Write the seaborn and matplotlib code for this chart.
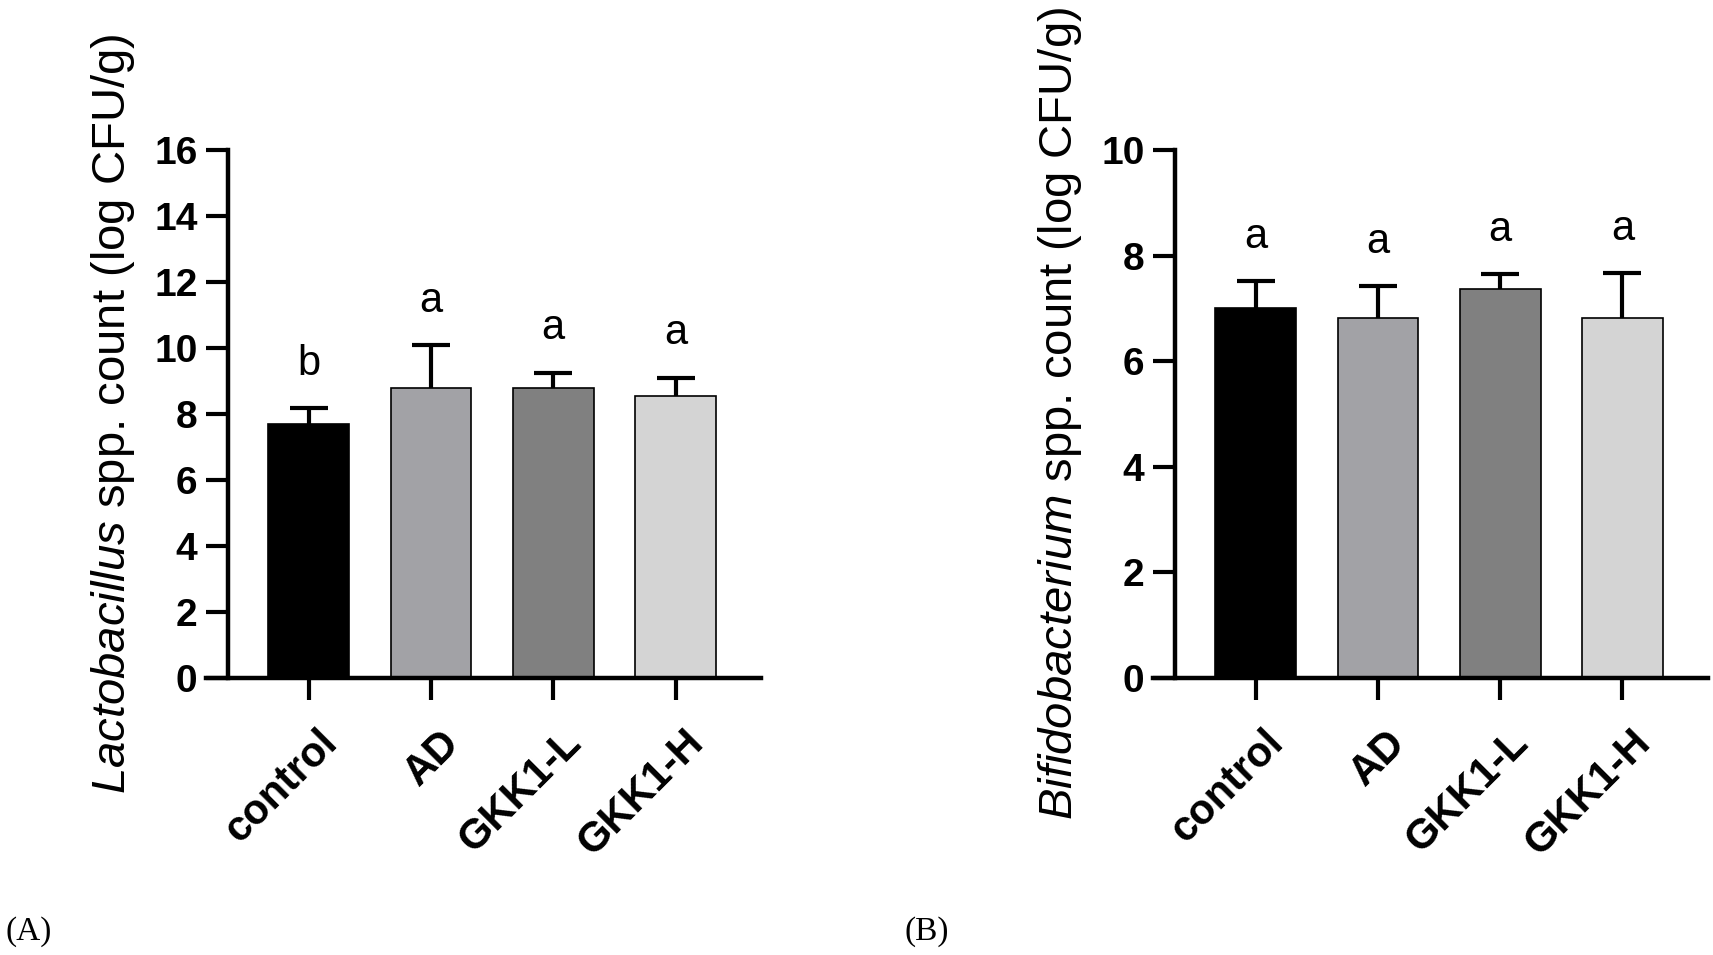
import matplotlib

matplotlib.use("Agg")
import matplotlib.pyplot as plt          # noqa: E402
import matplotlib.transforms as mtrans   # noqa: E402
import numpy as np                       # noqa: E402
import pandas as pd                      # noqa: E402
import seaborn as sns                    # noqa: E402

# ---------------------------------------------------------------------------
# Data
# ---------------------------------------------------------------------------
groups = ["control", "AD", "GKK1-L", "GKK1-H"]
bar_colors = ["#000000", "#A2A2A6", "#808080", "#D4D4D4"]

lacto_mean = [7.69, 8.80, 8.80, 8.53]
lacto_sd = [0.48, 1.29, 0.45, 0.57]
lacto_letters = ["b", "a", "a", "a"]

bifido_mean = [7.01, 6.81, 7.37, 6.81]
bifido_sd = [0.50, 0.61, 0.28, 0.85]
bifido_letters = ["a", "a", "a", "a"]

sns.set_theme(style="ticks")
plt.rcParams["font.family"] = ["Liberation Sans", "DejaVu Sans"]
plt.rcParams["mathtext.fontset"] = "custom"
plt.rcParams["mathtext.rm"] = "Liberation Sans"
plt.rcParams["mathtext.it"] = "Liberation Sans:italic"
for key in ("text.color", "axes.labelcolor", "xtick.color", "ytick.color",
            "axes.edgecolor"):
    plt.rcParams[key] = "black"


def draw_panel(fig, ax, means, sds, letters, genus, ymax, step):
    df = pd.DataFrame({"group": groups, "count": means})
    sns.barplot(data=df, x="group", y="count", hue="group", order=groups,
                hue_order=groups, palette=bar_colors, saturation=1, width=0.66,
                edgecolor="black", linewidth=1.2, legend=False, ax=ax)
    x = np.arange(len(groups))
    # one-sided (upper) SD bars, GraphPad style
    _, caps, _ = ax.errorbar(x, means, yerr=[np.zeros(len(sds)), sds], fmt="none",
                             ecolor="black", elinewidth=3, capsize=14, capthick=3)
    caps[0].remove()
    for i, (m, s, lab) in enumerate(zip(means, sds, letters)):
        ax.annotate(lab, (i, m + s), xytext=(0, 24), textcoords="offset points",
                    ha="center", va="baseline", fontsize=30, color="black")

    ax.set_xlim(-0.84, 3.7)
    ax.set_ylim(0, ymax)
    ax.set_yticks(np.arange(0, ymax + 1, step))
    ax.set_xticks(x)
    ax.set_xticklabels(groups, rotation=45, ha="right", va="top",
                       rotation_mode="anchor")
    ax.spines["left"].set_position(("data", -0.66))
    for side in ("top", "right"):
        ax.spines[side].set_visible(False)
    for side in ("left", "bottom"):
        ax.spines[side].set_linewidth(3.2)
        ax.spines[side].set_color("black")
    ax.tick_params(axis="both", direction="out", length=16, width=3,
                   color="black", labelsize=28, labelcolor="black")
    ax.tick_params(axis="y", pad=6)
    ax.tick_params(axis="x", pad=16, labelsize=30)
    shift = mtrans.ScaledTranslation(0.08, 0, fig.dpi_scale_trans)
    for lbl in ax.get_xticklabels():
        lbl.set_fontweight("bold")
        lbl.set_transform(lbl.get_transform() + shift)
    for lbl in ax.get_yticklabels():
        lbl.set_fontweight("bold")

    ax.set_xlabel("")
    ax.set_ylabel(rf"$\mathit{{{genus}}}$ spp. count (log CFU/g)", fontsize=34,
                  color="black")
    ax.yaxis.set_label_coords(-0.125, 0.5)


fig = plt.figure(figsize=(17.13, 9.55), dpi=100)
ax_a = fig.add_axes([0.1203, 0.2901, 0.324, 0.5529])
ax_b = fig.add_axes([0.6731, 0.2901, 0.324, 0.5529])

draw_panel(fig, ax_a, lacto_mean, lacto_sd, lacto_letters, "Lactobacillus", 16, 2)
draw_panel(fig, ax_b, bifido_mean, bifido_sd, bifido_letters, "Bifidobacterium", 10, 2)

fig.text(0.003, 0.024, "(A)", family="Liberation Serif", fontsize=24, va="center")
fig.text(0.528, 0.024, "(B)", family="Liberation Serif", fontsize=24, va="center")

fig.savefig("out.png", dpi=100)
plt.close(fig)
